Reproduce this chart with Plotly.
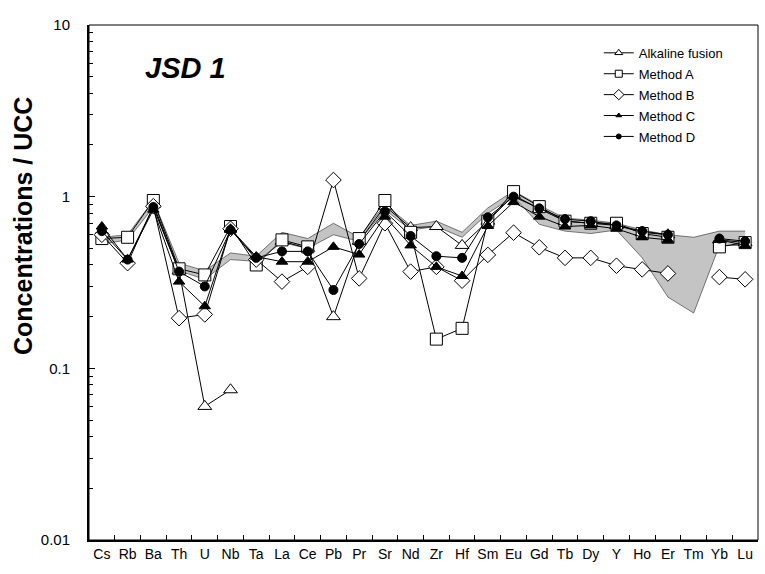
import plotly.graph_objects as go

elements = ["Cs", "Rb", "Ba", "Th", "U", "Nb", "Ta", "La", "Ce", "Pb", "Pr", "Sr", "Nd",
            "Zr", "Hf", "Sm", "Eu", "Gd", "Tb", "Dy", "Y", "Ho", "Er", "Tm", "Yb", "Lu"]

band_low = [0.53, 0.56, 0.87, 0.37, 0.33, 0.43, 0.42, 0.54, 0.50, 0.60, 0.55, 0.84, 0.64,
            0.67, 0.58, 0.80, 1.00, 0.69, 0.63, 0.61, 0.64, 0.44, 0.26, 0.21, 0.52, 0.52]
band_high = [0.58, 0.60, 0.95, 0.41, 0.37, 0.47, 0.45, 0.62, 0.57, 0.70, 0.58, 0.90, 0.68,
             0.72, 0.62, 0.86, 1.08, 0.89, 0.75, 0.73, 0.70, 0.64, 0.60, 0.58, 0.63, 0.63]

alkaline = [None, None, 0.90, 0.37, 0.060, 0.075, None, 0.55, 0.50, 0.20, 0.55, 0.88, 0.66,
            0.67, 0.52, 0.72, 1.02, 0.85, 0.72, 0.70, 0.68, 0.62, 0.60, None, 0.56, 0.54]
method_a = [0.57, 0.58, 0.95, 0.38, 0.35, 0.67, 0.40, 0.56, 0.51, None, 0.57, 0.95, 0.62,
            0.148, 0.171, 0.72, 1.07, 0.875, 0.72, 0.70, 0.70, 0.61, 0.58, None, 0.51, 0.54]
method_b = [0.60, 0.41, 0.88, 0.196, 0.206, 0.65, 0.43, 0.32, 0.39, 1.25, 0.334, 0.70, 0.366,
            0.39, 0.324, 0.458, 0.617, 0.507, 0.44, 0.44, 0.396, 0.377, 0.357, None, 0.34, 0.33]
method_c = [0.67, 0.43, 0.84, 0.32, 0.23, 0.65, 0.447, 0.418, 0.418, 0.51, 0.46, 0.765, 0.52,
            0.39, 0.345, 0.675, 0.93, 0.765, 0.67, 0.68, 0.65, 0.58, 0.56, None, 0.56, 0.52]
method_d = [0.63, 0.43, 0.87, 0.366, 0.30, 0.64, 0.44, 0.48, 0.48, 0.286, 0.53, 0.82, 0.59,
            0.45, 0.44, 0.758, 1.00, 0.855, 0.74, 0.72, 0.68, 0.63, 0.60, None, 0.57, 0.55]

y_ticks = [0.01, 0.1, 1, 10]
y_tick_labels = ["0.01", "0.1", "1", "10"]

FONT = "Liberation Sans, Arial, sans-serif"

fig = go.Figure()

fig.add_trace(go.Scatter(x=elements, y=band_low, mode="lines",
                         line=dict(color="#555555", width=0.8), showlegend=False,
                         hoverinfo="skip"))
fig.add_trace(go.Scatter(x=elements, y=band_high, mode="lines", fill="tonexty",
                         fillcolor="#c4c4c4", line=dict(color="#555555", width=0.8),
                         showlegend=False, hoverinfo="skip"))

series = [
    ("Alkaline fusion", alkaline, "triangle-up", 12, "white", 7),
    ("Method A", method_a, "square", 12, "white", 7),
    ("Method B", method_b, "diamond", 12, "white", 8),
    ("Method C", method_c, "triangle-up", 10, "black", 5),
    ("Method D", method_d, "circle", 9, "black", 5),
]
for i, (name, vals, sym, size, fill, lsize) in enumerate(series):
    fig.add_trace(go.Scatter(
        x=elements, y=vals, mode="lines+markers", name=name,
        connectgaps=False, showlegend=False,
        line=dict(color="black", width=1),
        marker=dict(symbol=sym, size=size, color=fill,
                    line=dict(color="black", width=1)),
    ))
# legend entries (small symbols, like the reference legend)
for i, (name, vals, sym, size, fill, lsize) in enumerate(series):
    fig.add_trace(go.Scatter(
        x=[None], y=[None], mode="lines+markers", name=name,
        legendgroup=f"g{i}",
        line=dict(color="black", width=1),
        marker=dict(symbol=sym, size=lsize, color=fill,
                    line=dict(color="black", width=1)),
    ))

fig.update_layout(
    width=765, height=574,
    margin=dict(l=89, r=7, t=25, b=34, autoexpand=False),
    plot_bgcolor="white", paper_bgcolor="white",
    font=dict(family=FONT, color="black"),
    legend=dict(x=0.762, y=0.975, xanchor="left", yanchor="top",
                font=dict(size=13, family=FONT), bgcolor="rgba(0,0,0,0)",
                tracegroupgap=1, traceorder="grouped"),
    showlegend=True,
)

fig.update_xaxes(
    type="category", range=[-0.5, 25.5], tickson="boundaries",
    ticks="inside", ticklen=5, tickwidth=1, tickcolor="black",
    showline=True, linewidth=2, linecolor="black", mirror=False,
    showgrid=False, zeroline=False, automargin=False, tickangle=0,
    tickfont=dict(size=14, family=FONT),
)
fig.update_yaxes(
    type="log", range=[-2, 1],
    tickvals=y_ticks, ticktext=y_tick_labels,
    ticks="inside", ticklen=6, tickwidth=1, tickcolor="black",
    minor=dict(ticks="inside", ticklen=4, tickwidth=1, tickcolor="black",
               dtick="D1", showgrid=False),
    showline=True, linewidth=2, linecolor="black", mirror=False,
    showgrid=False, zeroline=False, automargin=False,
    tickfont=dict(size=15, family=FONT),
    ticklabelstandoff=14,
)

fig.add_shape(type="rect", xref="paper", yref="paper", x0=0, y0=0, x1=1, y1=1,
              line=dict(color="black", width=1), fillcolor="rgba(0,0,0,0)", layer="above")

fig.add_annotation(text="<b>Concentrations / UCC</b>", xref="paper", yref="paper",
                   x=(23 - 89) / 669, y=(540 - 226) / 515, showarrow=False, textangle=-90,
                   font=dict(size=25, family=FONT), xanchor="center", yanchor="middle")

fig.add_annotation(text="<b><i>JSD 1</i></b>", xref="paper", yref="paper",
                   x=(185 - 89) / 669, y=(540 - 68) / 515, showarrow=False,
                   font=dict(size=29, family=FONT), xanchor="center", yanchor="middle")

fig.write_html("out.html", config={"displayModeBar": False},
               post_script="document.body.style.margin='0';document.body.style.overflow='hidden';")
